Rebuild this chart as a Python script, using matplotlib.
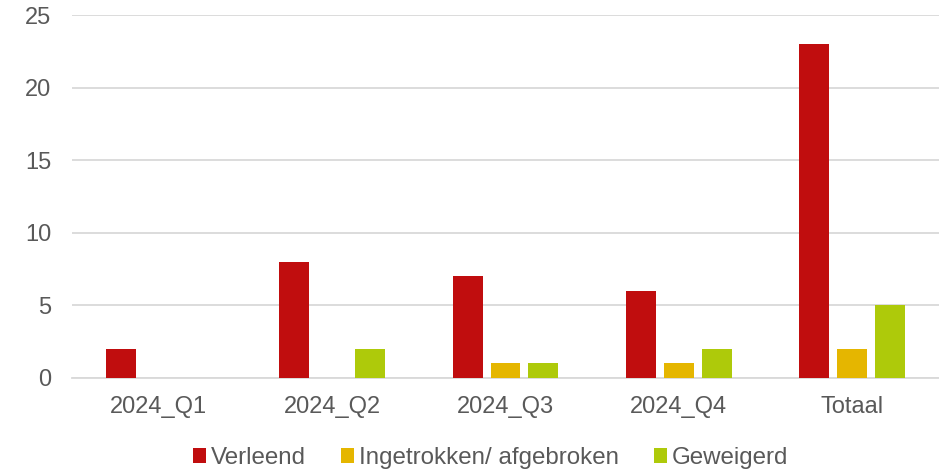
import numpy as np
import matplotlib
matplotlib.use("Agg")
import matplotlib.pyplot as plt

# data
categories = ["2024_Q1", "2024_Q2", "2024_Q3", "2024_Q4", "Totaal"]
verleend = [2, 8, 7, 6, 23]
ingetrokken = [0, 0, 1, 1, 2]
geweigerd = [0, 2, 1, 2, 5]

series = [
    ("Verleend", verleend, "#C00D0E"),
    ("Ingetrokken/ afgebroken", ingetrokken, "#E5B600"),
    ("Geweigerd", geweigerd, "#AECA0A"),
]

plt.rcParams["font.family"] = ["Liberation Sans", "DejaVu Sans"]
text_color = "#595959"
grid_color = "#D9D9D9"

fig = plt.figure(figsize=(9.39, 4.72), dpi=100)
ax = fig.add_axes([72 / 939, 1 - 378 / 472, 867 / 939, 363 / 472])

x = np.arange(len(categories))
width = 0.173
step = 0.219
for i, (label, values, color) in enumerate(series):
    ax.bar(x + (i - 1) * step, values, width, color=color, label=label, zorder=3)

ax.set_xlim(-0.5, len(categories) - 0.5)
ax.set_ylim(0, 25)
ax.set_yticks(range(0, 26, 5))
ax.set_xticks(x)
ax.set_xticklabels(categories)
ax.yaxis.grid(True, color=grid_color, linewidth=1.3, zorder=0)
ax.set_axisbelow(True)
for side in ["top", "right", "left"]:
    ax.spines[side].set_visible(False)
ax.spines["bottom"].set_color(grid_color)
ax.spines["bottom"].set_linewidth(1.3)
ax.tick_params(axis="both", length=0, labelsize=17, colors=text_color)
ax.tick_params(axis="x", pad=13)
ax.tick_params(axis="y", pad=15)

leg = ax.legend(loc="center", bbox_to_anchor=(0.483, -0.22), ncol=3, frameon=False,
                fontsize=17.4, handlelength=0.54, handleheight=0.54,
                handletextpad=0.2, columnspacing=1.45)
for t in leg.get_texts():
    t.set_color(text_color)

fig.savefig("out.png", dpi=100)
